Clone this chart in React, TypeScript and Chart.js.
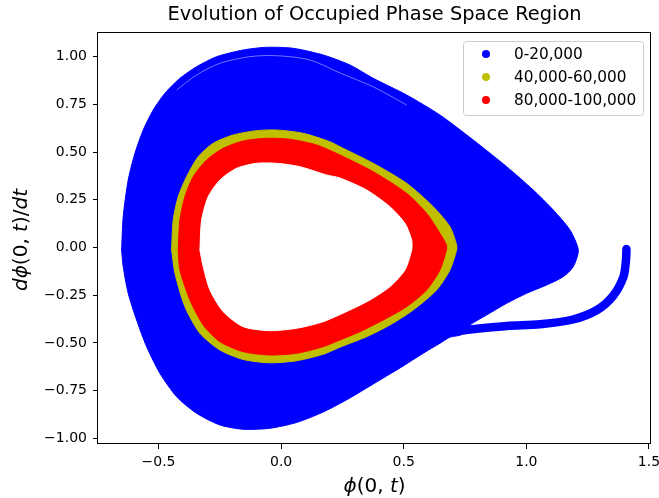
import React, { useEffect, useRef } from 'react';
import { Chart, registerables } from 'chart.js';

Chart.register(...registerables);

const TITLE = 'Evolution of Occupied Phase Space Region';
const SERIES_LABELS = ['0-20,000', '40,000-60,000', '80,000-100,000'];
const SERIES_COLORS = ['#0000ff', '#bfbf00', '#ff0000'];
const X_TICKS = [-0.5, 0.0, 0.5, 1.0, 1.5];
const Y_TICKS = [-1.0, -0.75, -0.5, -0.25, 0.0, 0.25, 0.5, 0.75, 1.0];
const X_RANGE = [-0.7467, 1.5082];
const Y_RANGE = [-1.0299, 1.1295];

// axis labels (mathtext-like: italic / upright segments)
const X_LABEL = [
  { t: '\u03d5', it: true },
  { t: '(0, ', it: false },
  { t: 't', it: true },
  { t: ')', it: false },
];
const Y_LABEL = [
  { t: 'd\u03d5', it: true },
  { t: '(0, ', it: false },
  { t: 't', it: true },
  { t: ')/', it: false },
  { t: 'dt', it: true },
];

// 0-20,000 : outline of the occupied region
const BLUE_X = [-0.6505, -0.644, -0.6236, -0.5962, -0.5624, -0.5216, -0.4739, -0.4127, -0.3446, -0.2631, -0.1546, -0.0591, 0.0493, 0.1717, 0.2806, 0.3756, 0.5118, 0.6476, 0.7834, 0.9197, 1.0281, 1.1097, 1.1778, 1.2117, 1.1913, 1.1505, 1.0828, 1.0012, 0.9197, 0.8381, 0.77, 0.7374, 0.6884, 0.6476, 0.5795, 0.4845, 0.3756, 0.2806, 0.1717, 0.0632, -0.0457, -0.1546, -0.2496, -0.3446, -0.4262, -0.4943, -0.5485, -0.5893, -0.6236, -0.644, -0.6505];
const BLUE_Y = [-0.0131, 0.1614, 0.3538, 0.4937, 0.6158, 0.7207, 0.8082, 0.8868, 0.9476, 1.0, 1.0351, 1.0493, 1.044, 1.0089, 0.9565, 0.8868, 0.7993, 0.6944, 0.5634, 0.4235, 0.3014, 0.1965, 0.0917, -0.0131, -0.1006, -0.153, -0.1965, -0.24, -0.2925, -0.3538, -0.4062, -0.4560, -0.4700, -0.5021, -0.5545, -0.6316, -0.7154, -0.7888, -0.8622, -0.9172, -0.9476, -0.9528, -0.9303, -0.869, -0.782, -0.6593, -0.5199, -0.38, -0.24, -0.1006, -0.0131];

// 0-20,000 : trajectory tail leaving the region
const TAIL_X = [0.7374, 0.77, 0.9209, 1.0555, 1.19, 1.2879, 1.3532, 1.396, 1.4062, 1.4082];
const TAIL_Y = [-0.435, -0.4298, -0.4114, -0.4025, -0.3774, -0.3276, -0.2542, -0.153, -0.0655, -0.0079];

// 0-20,000 : thin unvisited gap near the top
const GAP_X = [-0.4262, -0.3446, -0.2496, -0.1272, -0.0184, 0.1175, 0.2398, 0.3744, 0.5118];
const GAP_Y = [0.8255, 0.9041, 0.9654, 1.0, 1.0052, 0.9827, 0.9146, 0.8428, 0.7469];

// 40,000-60,000 : outer edge
const YELLOW_X = [-0.4466, -0.44, -0.4197, -0.3854, -0.3381, -0.2769, -0.1954, -0.0999, -0.0184, 0.0901, 0.199, 0.2398, 0.3756, 0.5118, 0.6203, 0.6884, 0.7157, 0.7157, 0.6884, 0.6342, 0.5387, 0.4437, 0.3487, 0.2398, 0.1717, 0.0632, -0.0457, -0.1546, -0.2496, -0.3312, -0.3923, -0.4331, -0.4466];
const YELLOW_Y = [-0.0131, 0.1441, 0.2662, 0.3711, 0.4759, 0.5461, 0.5896, 0.6122, 0.6158, 0.5985, 0.5545, 0.5283, 0.4413, 0.3365, 0.2138, 0.109, 0.0131, -0.0131, -0.1179, -0.2227, -0.3276, -0.4062, -0.4675, -0.5225, -0.5595, -0.5936, -0.6045, -0.5870, -0.5372, -0.4497, -0.3103, -0.1352, -0.0131];

// 80,000-100,000 : outer edge
const RED_X = [-0.4197, -0.4127, -0.3923, -0.3585, -0.3038, -0.2361, -0.1546, -0.0591, 0.0359, 0.1448, 0.2398, 0.3756, 0.5118, 0.5934, 0.6476, 0.6741, 0.6741, 0.6476, 0.5934, 0.5118, 0.4164, 0.3214, 0.2398, 0.1717, 0.0632, -0.0457, -0.1546, -0.2496, -0.3177, -0.3719, -0.4127, -0.4197];
const RED_Y = [-0.0131, 0.1441, 0.2662, 0.3711, 0.4586, 0.5199, 0.5582, 0.5723, 0.5671, 0.5372, 0.4848, 0.3973, 0.2841, 0.1792, 0.0744, 0.0131, -0.0131, -0.1179, -0.2227, -0.3103, -0.38, -0.4413, -0.4848, -0.5199, -0.5545, -0.5634, -0.5461, -0.4937, -0.4062, -0.2752, -0.1179, -0.0131];

// unoccupied centre
const HOLE_X = [-0.3312, -0.3242, -0.2973, -0.2496, -0.1815, -0.0999, -0.0184, 0.0767, 0.1856, 0.2398, 0.3487, 0.4437, 0.5049, 0.5322, 0.5322, 0.5049, 0.4437, 0.3622, 0.2806, 0.1717, 0.0632, -0.0457, -0.1546, -0.2361, -0.2904, -0.3177, -0.3312];
const HOLE_Y = [-0.0131, 0.1441, 0.2662, 0.3538, 0.4151, 0.4413, 0.4413, 0.4235, 0.38, 0.3643, 0.3014, 0.2138, 0.1268, 0.0393, -0.0131, -0.1179, -0.2054, -0.2752, -0.3276, -0.3889, -0.4235, -0.4361, -0.4151, -0.3365, -0.2227, -0.1006, -0.0131];

const pts = (xs: number[], ys: number[]) => xs.map((x, i) => ({ x, y: ys[i] }));
const FONT = '"DejaVu Sans", "Liberation Sans", sans-serif';
const fmt = (v: number, d: number) => v.toFixed(d).replace('-', '\u2212');

type Seg = { t: string; it: boolean };

function drawSegs(ctx: CanvasRenderingContext2D, segs: Seg[], cx: number, cy: number, rot: number, size: number) {
  ctx.save();
  ctx.translate(cx, cy);
  ctx.rotate(rot);
  ctx.fillStyle = '#000';
  ctx.textBaseline = 'middle';
  ctx.textAlign = 'left';
  const widths = segs.map((s) => {
    ctx.font = `${s.it ? 'italic ' : ''}${size}px ${FONT}`;
    return ctx.measureText(s.t).width;
  });
  const total = widths.reduce((a, b) => a + b, 0);
  let x = -total / 2;
  segs.forEach((s, i) => {
    ctx.font = `${s.it ? 'italic ' : ''}${size}px ${FONT}`;
    ctx.fillText(s.t, x, 0);
    x += widths[i];
  });
  ctx.restore();
}

const decorPlugin = {
  id: 'decor',
  afterDraw(chart: any) {
    const ctx: CanvasRenderingContext2D = chart.ctx;
    const a = chart.chartArea;
    // frame
    ctx.save();
    ctx.strokeStyle = '#000';
    ctx.lineWidth = 1;
    ctx.strokeRect(Math.round(a.left) - 0.5, Math.round(a.top) + 0.5, Math.round(a.right - a.left), Math.round(a.bottom - a.top) - 1);
    ctx.restore();

    // legend
    const bw = 180;
    const bh = 74;
    const bx = a.right - 8 - bw;
    const by = a.top + 9;
    ctx.save();
    ctx.beginPath();
    ctx.roundRect(bx + 0.5, by + 0.5, bw, bh, 3);
    ctx.fillStyle = 'rgba(255,255,255,0.8)';
    ctx.fill();
    ctx.strokeStyle = '#cccccc';
    ctx.lineWidth = 1;
    ctx.stroke();
    SERIES_LABELS.forEach((lab, i) => {
      const cy = by + 13 + i * 23;
      ctx.beginPath();
      ctx.arc(bx + 23, cy, 4, 0, Math.PI * 2);
      ctx.fillStyle = SERIES_COLORS[i];
      ctx.fill();
      ctx.fillStyle = '#000';
      ctx.font = `15.3px ${FONT}`;
      ctx.textBaseline = 'middle';
      ctx.textAlign = 'left';
      ctx.fillText(lab, bx + 51, cy + 1);
    });
    ctx.restore();

    // axis labels
    drawSegs(ctx, X_LABEL, (a.left + a.right) / 2, a.bottom + 43, 0, 20);
    drawSegs(ctx, Y_LABEL, 22, (a.top + a.bottom) / 2 + 2, -Math.PI / 2, 20);
  },
};

export default function App() {
  const ref = useRef<HTMLCanvasElement | null>(null);
  useEffect(() => {
    document.body.style.margin = '0';
    const canvas = ref.current;
    if (!canvas) return;
    const shape = (label: string, xs: number[], ys: number[], color: string, order: number) => ({
      label,
      data: pts(xs, ys),
      showLine: true,
      fill: 'shape',
      backgroundColor: color,
      borderColor: color,
      borderWidth: 1,
      pointRadius: 0,
      tension: 0.25,
      order,
    });
    const chart = new Chart(canvas, {
      type: 'scatter',
      data: {
        datasets: [
          shape(SERIES_LABELS[0], BLUE_X, BLUE_Y, SERIES_COLORS[0], 6),
          {
            label: SERIES_LABELS[0] + ' tail',
            data: pts(TAIL_X, TAIL_Y),
            showLine: true,
            fill: false,
            borderColor: SERIES_COLORS[0],
            borderWidth: 8.5,
            borderCapStyle: 'round',
            borderJoinStyle: 'round',
            pointRadius: 0,
            tension: 0.3,
            order: 5,
          },
          {
            label: 'gap',
            data: pts(GAP_X, GAP_Y),
            showLine: true,
            fill: false,
            borderColor: 'rgba(255,255,255,0.45)',
            borderWidth: 1,
            pointRadius: 0,
            tension: 0.3,
            order: 4,
          },
          shape(SERIES_LABELS[1], YELLOW_X, YELLOW_Y, SERIES_COLORS[1], 3),
          shape(SERIES_LABELS[2], RED_X, RED_Y, SERIES_COLORS[2], 2),
          shape('unoccupied', HOLE_X, HOLE_Y, '#ffffff', 1),
        ] as any,
      },
      options: {
        animation: false,
        responsive: false,
        events: [],
        layout: { padding: { left: 0, right: 8, top: 0, bottom: 0 } },
        plugins: {
          legend: { display: false },
          tooltip: { enabled: false },
          title: {
            display: true,
            fullSize: false,
            text: TITLE,
            color: '#000',
            font: { family: FONT, size: 19.4, weight: 'normal', lineHeight: 1.2 },
            padding: { top: 3, bottom: 5.7 },
          },
        },
        scales: {
          x: {
            type: 'linear',
            min: X_RANGE[0],
            max: X_RANGE[1],
            afterFit: (s: any) => { s.height = 54; s.paddingLeft = 0; s.paddingRight = 0; },
            afterBuildTicks: (s: any) => { s.ticks = X_TICKS.map((v) => ({ value: v })); },
            grid: { display: true, drawOnChartArea: false, drawTicks: true, tickLength: 5, color: '#000', lineWidth: 1 },
            border: { display: false },
            ticks: {
              color: '#000',
              font: { family: FONT, size: 14 },
              padding: 5,
              maxRotation: 0,
              autoSkip: false,
              callback: (v: any) => fmt(Number(v), 1),
            },
          },
          y: {
            type: 'linear',
            min: Y_RANGE[0],
            max: Y_RANGE[1],
            afterFit: (s: any) => { s.width = 98; s.paddingTop = 0; s.paddingBottom = 0; },
            afterBuildTicks: (s: any) => { s.ticks = Y_TICKS.map((v) => ({ value: v })); },
            grid: { display: true, drawOnChartArea: false, drawTicks: true, tickLength: 5, color: '#000', lineWidth: 1 },
            border: { display: false },
            ticks: {
              color: '#000',
              font: { family: FONT, size: 14 },
              padding: 6,
              autoSkip: false,
              callback: (v: any) => fmt(Number(v), 2),
            },
          },
        },
      } as any,
      plugins: [decorPlugin],
    });
    return () => chart.destroy();
  }, []);
  return (
    <div style={{ width: 659, height: 498, background: '#fff' }}>
      <canvas ref={ref} width={659} height={498} style={{ display: 'block' }} />
    </div>
  );
}
